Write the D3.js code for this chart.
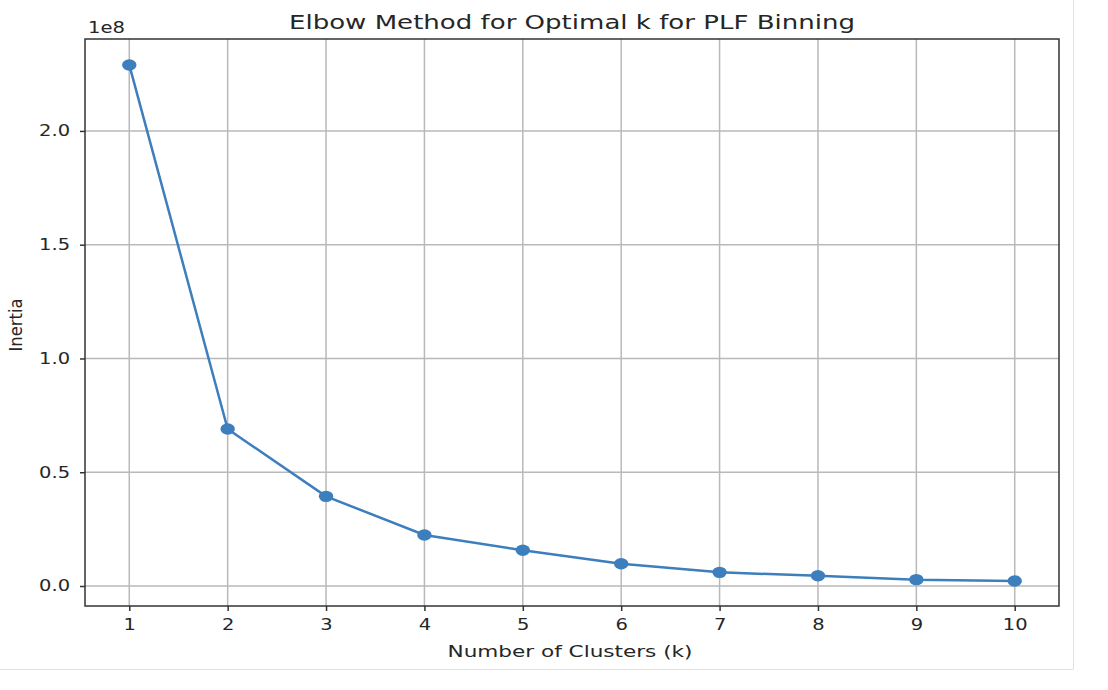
<!DOCTYPE html>
<html><head><meta charset="utf-8">
<script src="https://cdn.jsdelivr.net/npm/d3@7"></script>
<style>body{margin:0;background:#fff;} svg{display:block;}</style>
</head><body>
<svg id="c" width="1108" height="690"></svg>
<script>
const kValues = [1,2,3,4,5,6,7,8,9,10];
const inertia = [2.29e8, 0.690e8, 0.394e8, 0.224e8, 0.157e8, 0.098e8, 0.060e8, 0.045e8, 0.028e8, 0.022e8];
const yTicks = [0, 0.5e8, 1.0e8, 1.5e8, 2.0e8];
const xTicks = [1,2,3,4,5,6,7,8,9,10];
const title = "Elbow Method for Optimal k for PLF Binning";
const xLabel = "Number of Clusters (k)";
const yLabel = "Inertia";

const svg = d3.select("#c");
const L = 85, R = 1059, T = 39, B = 606;
const x = d3.scaleLinear().domain([0.55, 10.45]).range([L, R]);
const y = d3.scaleLinear().domain([-0.0879e8, 2.404e8]).range([B, T]);
const font = "DejaVu Sans, sans-serif";
const txt = "#262626";
const SX = 1.3; // horizontal stretch of the reference image

// outer image border
svg.append("line").attr("x1",1073.5).attr("x2",1073.5).attr("y1",0).attr("y2",669.5).attr("stroke","#e2e2e2");
svg.append("line").attr("x1",0).attr("x2",1073.5).attr("y1",669.5).attr("y2",669.5).attr("stroke","#e2e2e2");

// grid
const g = svg.append("g");
g.selectAll(".gx").data(xTicks).join("line")
  .attr("x1", d=>x(d)).attr("x2", d=>x(d)).attr("y1", T).attr("y2", B)
  .attr("stroke", "#b9b9b9").attr("stroke-width", 1.5);
g.selectAll(".gy").data(yTicks).join("line")
  .attr("x1", L).attr("x2", R).attr("y1", d=>y(d)).attr("y2", d=>y(d))
  .attr("stroke", "#b9b9b9").attr("stroke-width", 1.5);

// axes
const xAxis = d3.axisBottom(x).tickValues(xTicks).tickSize(5).tickPadding(8).tickFormat(d3.format("d"));
const yAxis = d3.axisLeft(y).tickValues(yTicks).tickSize(5).tickPadding(6.5).tickFormat(d => (d/1e8).toFixed(1));
const ax = svg.append("g").attr("transform", `translate(0,${B})`).call(xAxis);
const ay = svg.append("g").attr("transform", `translate(${L},0)`).call(yAxis);
[ax, ay].forEach(a => {
  a.select(".domain").remove();
  a.selectAll(".tick line").attr("stroke", "#333").attr("stroke-width", 1.5);
  a.selectAll(".tick text").attr("fill", txt).style("font-family", font).style("font-size", "15px")
    .attr("transform", `scale(${SX},1)`);
});
ay.selectAll(".tick text").attr("x", -11.5);

// frame
svg.append("rect").attr("x", L).attr("y", T).attr("width", R-L).attr("height", B-T)
  .attr("fill", "none").attr("stroke", "#333").attr("stroke-width", 1.5);

// line + markers
const col = "#3d7ebd";
const line = d3.line().x((d,i)=>x(kValues[i])).y(d=>y(d));
svg.append("path").datum(inertia).attr("d", line).attr("fill","none").attr("stroke", col).attr("stroke-width", 2.5);
svg.selectAll(".pt").data(inertia).join("ellipse")
  .attr("cx", (d,i)=>x(kValues[i])).attr("cy", d=>y(d)).attr("rx", 7.2).attr("ry", 5.7).attr("fill", col);

// texts
svg.append("text").attr("x", 572).attr("y", 29).attr("text-anchor","middle")
  .attr("fill", txt).style("font-family", font).style("font-size","20px")
  .attr("textLength", 566).attr("lengthAdjust","spacingAndGlyphs").text(title);
svg.append("text").attr("x", 570).attr("y", 657).attr("text-anchor","middle")
  .attr("fill", txt).style("font-family", font).style("font-size","16px")
  .attr("textLength", 245).attr("lengthAdjust","spacingAndGlyphs").text(xLabel);
svg.append("text").attr("x", 88).attr("y", 33)
  .attr("fill", txt).style("font-family", font).style("font-size","15px")
  .attr("textLength", 37).attr("lengthAdjust","spacingAndGlyphs").text("1e8");
svg.append("text").attr("transform","translate(22,325) rotate(-90)").attr("text-anchor","middle")
  .attr("fill", txt).style("font-family", font).style("font-size","17px")
  .attr("textLength", 53).attr("lengthAdjust","spacingAndGlyphs").text(yLabel);
</script>
</body></html>
